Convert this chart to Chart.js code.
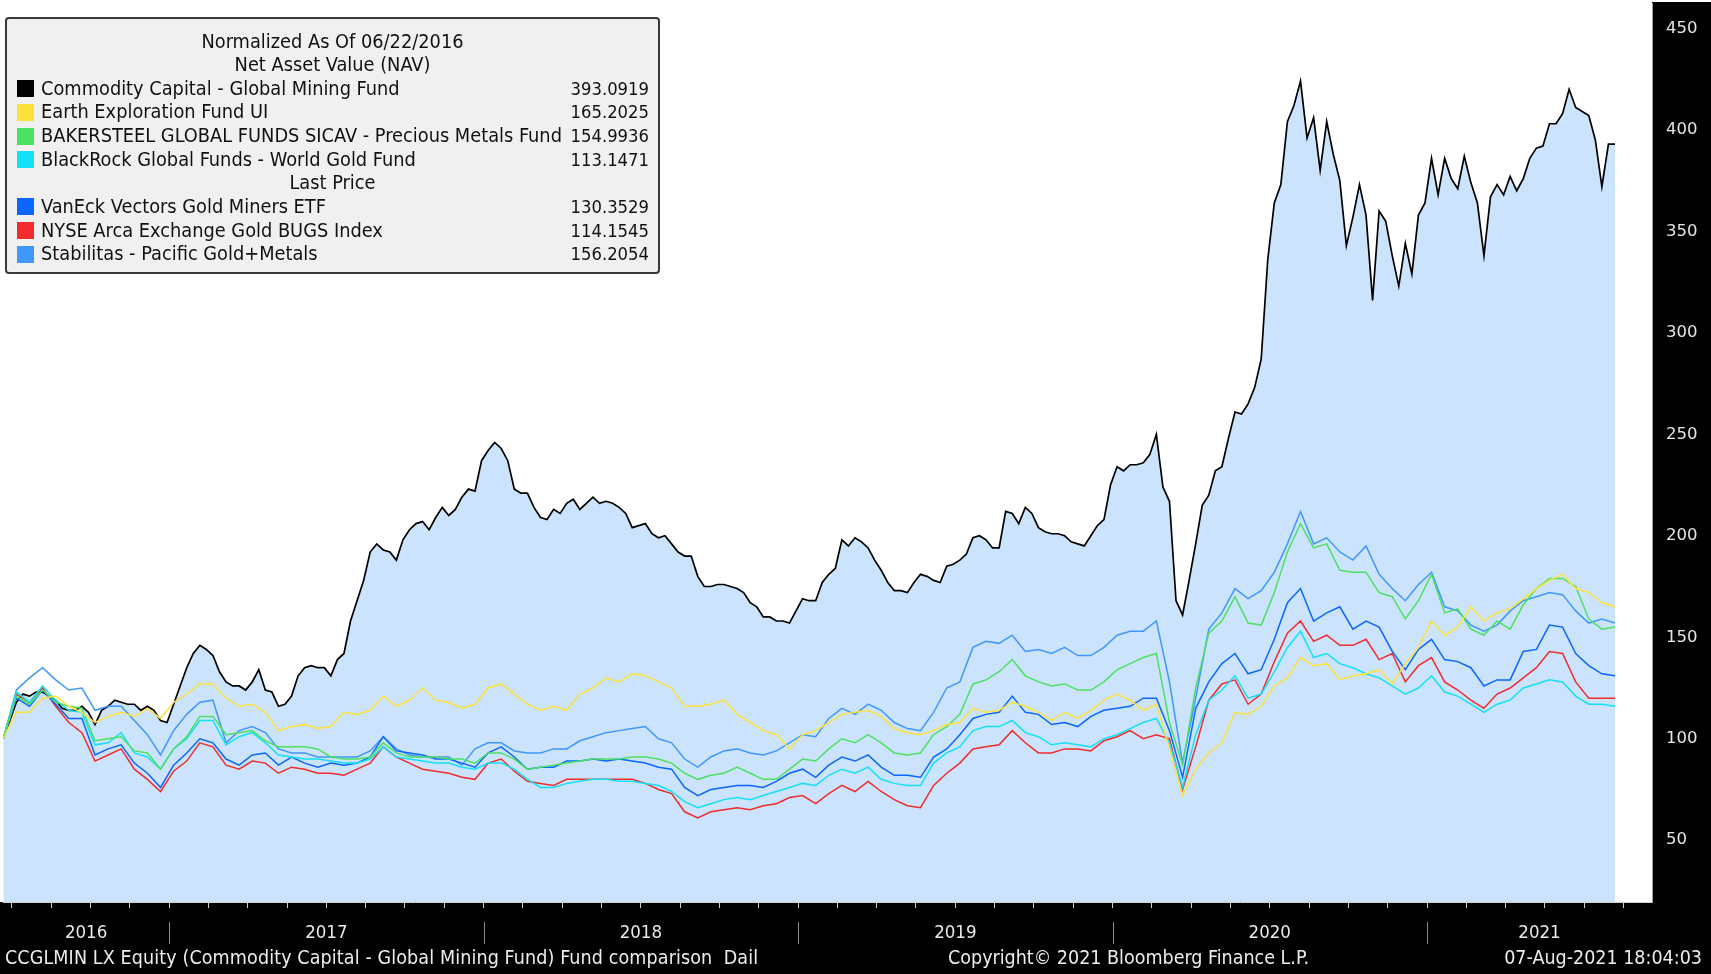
<!DOCTYPE html>
<html>
<head>
<meta charset="utf-8">
<script src="https://cdn.jsdelivr.net/npm/chart.js@4.4.1/dist/chart.umd.min.js"></script>
<style>
html,body{margin:0;padding:0;background:#fff;}
#wrap{position:relative;width:1711px;height:974px;overflow:hidden;background:#fff;}
#c{position:absolute;left:0;top:0;}
.t{position:absolute;font-family:"DejaVu Sans Condensed","Liberation Sans Narrow","Arial Narrow","DejaVu Sans",sans-serif;font-size:19.8px;white-space:pre;line-height:24px;height:24px;}
.f{font-size:19.5px;}
.v{font-size:18.3px;}
#legendBox{position:absolute;left:5px;top:17px;width:651px;height:253px;background:#f0f0f0;border:2px solid #3a3a3a;border-radius:4px;}
.sw{position:absolute;width:17px;height:17px;}
</style>
</head>
<body>
<div id="wrap">
  <canvas id="c" width="1711" height="974"></canvas>
  <div id="legendBox"></div>
  <div id="legendText"></div>
  <div id="footer"></div>
</div>
<script>
// ---------------- data ----------------
const START = 2016.4727;          // 22 Jun 2016, normalization date
const STEP = 1 / 24;              // half-month sampling (comparison series)
const STEP_FINE = 1 / 48;         // weekly-ish sampling (main fund)
const seriesNames = [
  "Commodity Capital - Global Mining Fund",
  "Earth Exploration Fund UI",
  "BAKERSTEEL GLOBAL FUNDS SICAV - Precious Metals Fund",
  "BlackRock Global Funds - World Gold Fund",
  "VanEck Vectors Gold Miners ETF",
  "NYSE Arca Exchange Gold BUGS Index",
  "Stabilitas - Pacific Gold+Metals"
];
const lastValues = ["393.0919","165.2025","154.9936","113.1471","130.3529","114.1545","156.2054"];
const yearLabels = ["2016","2017","2018","2019","2020","2021"];
const yTickValues = [50,100,150,200,250,300,350,400,450];

const commodityCapital = [
100,109,118,122,121,123,123,121,119,115,
114,114,116,113,107,114,116,119,118,117,
117,114,116,114,109,108,117,126,135,142,
146,144,141,133,128,126,126,124,128,134,
124,123,116,117,121,131,135,136,135,135,
131,139,142,158,168,178,192,196,193,192,
188,198,203,206,207,203,209,214,210,213,
219,223,222,237,242,246,243,237,223,221,
221,214,209,208,213,211,216,218,213,216,
219,216,217,216,214,211,204,205,206,201,
199,200,196,192,190,190,180,175,175,176,
176,175,174,172,167,165,160,160,158,158,
157,163,169,168,168,177,181,184,198,195,
199,197,194,188,183,177,173,173,172,177,
181,180,178,177,185,186,188,191,199,200,
198,194,194,212,211,206,214,211,204,202,
201,201,200,197,196,195,200,205,208,225,
234,232,235,235,236,240,250,224,217,168,
161,178,196,215,220,232,234,248,261,260,
265,273,287,336,364,373,404,412,424,396,
406,380,404,388,375,343,357,373,358,316,
360,355,338,323,344,329,358,364,386,368,
386,376,371,387,374,364,338,367,373,368,
377,370,376,386,391,392,403,403,408,420,
411,409,407,395,372,393,393];
const earthExploration = [100,113,113,120,121,116,113,108,111,113,111,115,110,118,122,127,127,120,116,117,
113,104,106,107,105,106,113,112,114,121,116,119,125,119,118,115,117,125,127,122,
117,114,116,114,122,125,130,128,132,131,128,125,116,116,117,119,112,108,104,102,
95,102,104,108,112,113,114,111,105,103,102,104,107,108,115,113,114,118,116,113,
109,113,110,114,119,122,119,114,117,95,72,85,93,98,113,112,116,126,130,140,
136,137,129,131,132,134,127,137,145,158,151,155,165,158,162,164,169,174,178,181,
174,172,167,165];
const bakersteel = [100,121,117,124,118,116,115,99,100,101,94,93,85,95,101,111,111,102,103,104,
99,96,96,96,95,91,90,90,91,98,93,91,91,91,90,90,88,93,93,90,
85,86,87,88,89,90,90,90,91,91,90,88,83,80,82,83,86,83,80,80,
85,90,89,95,100,98,102,98,93,92,93,102,106,112,127,129,133,139,131,128,
126,127,124,124,128,134,137,140,142,108,87,125,152,158,170,157,156,172,192,206,
194,196,183,182,182,172,170,159,168,181,162,164,154,151,158,154,166,174,179,179,
175,159,154,155];
const blackRock = [100,123,118,126,119,114,113,97,98,103,93,91,85,95,100,109,109,97,101,103,
98,92,91,90,90,89,88,88,90,96,91,90,89,88,88,86,85,88,88,85,
80,76,76,78,79,80,80,79,79,78,77,74,69,66,68,70,71,70,72,74,
76,78,77,82,85,83,86,80,78,77,77,88,93,96,104,106,106,109,103,101,
97,98,97,96,100,102,105,108,110,98,76,102,119,124,131,120,122,133,145,153,
140,142,137,135,132,130,126,122,125,131,123,121,117,113,117,119,125,127,129,128,
121,117,117,116];
const vanEck = [100,120,116,124,117,110,110,92,95,97,88,83,76,87,93,100,98,90,87,92,
93,87,91,88,86,88,87,88,91,101,94,93,92,90,90,88,86,93,96,91,
85,86,86,89,89,90,89,90,89,88,86,85,76,72,75,76,77,77,76,79,
83,85,81,87,91,89,92,86,82,82,81,91,95,102,110,112,113,121,113,112,
107,108,106,111,114,115,116,120,120,104,81,115,128,137,142,132,134,149,167,174,
158,162,165,154,158,155,143,134,144,149,139,138,135,126,129,129,143,144,156,155,
142,136,132,131];
const goldBugs = [100,122,118,125,116,108,103,89,92,95,85,80,74,84,89,98,96,87,85,89,
88,83,86,85,83,83,82,85,88,96,91,88,85,84,83,81,80,88,90,84,
79,78,77,80,80,80,80,80,80,78,75,73,64,61,64,65,66,65,67,68,
71,72,68,73,77,74,79,74,70,67,66,77,83,88,95,96,97,104,98,93,
93,95,95,94,99,101,104,100,102,100,75,96,119,127,129,117,122,138,152,158,
148,151,146,146,149,139,142,128,136,140,128,124,119,115,122,125,130,135,143,142,
128,120,120,120];
const stabilitas = [100,124,130,135,129,124,125,114,116,116,109,102,92,104,112,118,119,98,104,106,
103,95,93,93,91,91,91,91,94,101,95,92,91,91,91,87,95,98,98,94,
93,93,95,95,99,101,103,104,105,106,100,98,90,86,91,94,95,93,92,94,
98,102,101,110,115,112,117,114,108,105,104,113,125,128,145,148,147,151,143,144,
142,145,141,141,145,151,153,153,158,128,88,120,154,162,174,169,173,182,196,212,
196,199,192,188,195,181,174,168,176,182,165,163,156,153,156,163,168,170,172,171,
163,157,159,157];

const dates = [];
for (let i = 0; i < earthExploration.length; i++) dates.push(START + i * STEP);
const fineDates = [];
for (let i = 0; i < commodityCapital.length; i++) fineDates.push(START + i * STEP_FINE);

// ---------------- styling ----------------
const colors = ["#000000","#fde23c","#4de163","#14e0f8","#0a66ff","#f02c2c","#3f97ff"];
const FONT = '"DejaVu Sans Condensed","Liberation Sans Narrow","Arial Narrow","DejaVu Sans",sans-serif';
const X_MIN = 2016.4718, X_MAX = 2021.7154;

const tickDates = [];
for (let t = 2016.5; t <= X_MAX; t += 0.125) tickDates.push(t);
const yearBounds = [2017, 2018, 2019, 2020, 2021];
const yearMids = [(X_MIN + 2017) / 2, 2017.5, 2018.5, 2019.5, 2020.5, (2021 + X_MAX) / 2];

const seriesData = [commodityCapital, earthExploration, bakersteel, blackRock, vanEck, goldBugs, stabilitas];
const pts = (arr, xs) => arr.map((v, i) => ({x: xs[i], y: v}));

const datasets = seriesData.map((arr, k) => ({
  label: seriesNames[k],
  data: pts(arr, k === 0 ? fineDates : dates),
  borderColor: colors[k],
  borderWidth: k === 0 ? 1.7 : 1.5,
  pointRadius: 0,
  tension: 0,
  fill: k === 0 ? 'start' : false,
  backgroundColor: k === 0 ? '#cbe3fc' : colors[k],
  order: k === 0 ? 10 : k
}));

const noPad = s => { s.paddingTop = 0; s.paddingBottom = 0; s.paddingLeft = 0; s.paddingRight = 0; };

const panelPlugin = {
  id: 'panels',
  beforeDraw(chart) {
    const ctx = chart.ctx, a = chart.chartArea;
    ctx.save();
    ctx.fillStyle = '#000';
    ctx.fillRect(a.right, 2, chart.width - a.right, chart.height - 2);
    ctx.fillRect(0, a.bottom, chart.width, chart.height - a.bottom);
    ctx.restore();
  },
  afterDraw(chart) {
    const ctx = chart.ctx, xs = chart.scales.x, a = chart.chartArea;
    ctx.save();
    ctx.strokeStyle = '#8a8a8a';
    ctx.lineWidth = 1;
    yearBounds.forEach(y => {
      const px = Math.round(xs.getPixelForValue(y)) + 0.5;
      ctx.beginPath();
      ctx.moveTo(px, a.bottom + 20);
      ctx.lineTo(px, a.bottom + 42);
      ctx.stroke();
    });
    ctx.restore();
  }
};

new Chart(document.getElementById('c'), {
  type: 'line',
  data: { datasets },
  options: {
    responsive: false,
    animation: false,
    devicePixelRatio: 1,
    layout: { padding: { left: 3, top: 3, right: 0, bottom: 0 } },
    plugins: { legend: { display: false }, tooltip: { enabled: false } },
    scales: {
      x: {
        type: 'linear', position: 'bottom', min: X_MIN, max: X_MAX, weight: 0,
        afterBuildTicks: s => { s.ticks = tickDates.map(v => ({ value: v })); },
        afterFit: s => { s.height = 0; noPad(s); },
        grid: { display: true, drawOnChartArea: false, drawTicks: true, tickLength: 6, color: '#cfcfcf', lineWidth: 1 },
        border: { display: true, color: '#cfcfcf', width: 1 },
        ticks: { display: false }
      },
      years: {
        type: 'linear', position: 'bottom', min: X_MIN, max: X_MAX, weight: 1,
        afterBuildTicks: s => { s.ticks = yearMids.map(v => ({ value: v })); },
        afterFit: s => { s.height = 72; noPad(s); },
        grid: { display: false, drawTicks: false },
        border: { display: false },
        ticks: {
          autoSkip: false, maxRotation: 0, minRotation: 0, padding: 20,
          color: '#e8e8e8', font: { family: FONT, size: 18.5 },
          callback: (v, i) => yearLabels[i]
        }
      },
      y: {
        type: 'linear', position: 'right', min: 19.56, max: 462.5,
        afterBuildTicks: s => { s.ticks = yTickValues.map(v => ({ value: v })); },
        afterFit: s => { s.width = 59; noPad(s); },
        grid: { display: true, drawOnChartArea: false, drawTicks: false },
        border: { display: true, color: '#9a9a9a', width: 1 },
        ticks: {
          padding: 14, color: '#e4e4e4', font: { family: '"DejaVu Sans",sans-serif', size: 16.5 },
          callback: v => String(v)
        }
      }
    }
  },
  plugins: [panelPlugin]
});

// ---------------- legend (HTML text) ----------------
const legendRows = [
  { head: "Normalized As Of 06/22/2016" },
  { head: "Net Asset Value (NAV)" },
  { s: 0 }, { s: 1 }, { s: 2 }, { s: 3 },
  { head: "Last Price" },
  { s: 4 }, { s: 5 }, { s: 6 }
];
const lt = document.getElementById('legendText');
legendRows.forEach((r, k) => {
  const cy = 41.5 + 23.63 * k;
  if (r.head !== undefined) {
    const d = document.createElement('div');
    d.className = 't';
    d.style.cssText = `left:5px;width:655px;text-align:center;top:${cy - 12}px;color:#111;`;
    d.textContent = r.head;
    lt.appendChild(d);
  } else {
    const sw = document.createElement('div');
    sw.className = 'sw';
    sw.style.cssText = `left:17px;top:${cy - 8.5}px;background:${colors[r.s]};`;
    lt.appendChild(sw);
    const n = document.createElement('div');
    n.className = 't';
    n.style.cssText = `left:41px;top:${cy - 12}px;color:#111;`;
    n.textContent = seriesNames[r.s];
    lt.appendChild(n);
    const v = document.createElement('div');
    v.className = 't v';
    v.style.cssText = `left:0;width:649px;text-align:right;top:${cy - 12}px;color:#111;`;
    v.textContent = lastValues[r.s];
    lt.appendChild(v);
  }
});

// ---------------- footer ----------------
const footer = document.getElementById('footer');
[
  { text: "CCGLMIN LX Equity (Commodity Capital - Global Mining Fund) Fund comparison  Dail", css: "left:5px;letter-spacing:0.12px;" },
  { text: "Copyright\u00A9 2021 Bloomberg Finance L.P.", css: "left:948px;" },
  { text: "07-Aug-2021 18:04:03", css: "left:0;width:1702px;text-align:right;" }
].forEach(f => {
  const d = document.createElement('div');
  d.className = 't f';
  d.style.cssText = f.css + "top:946px;color:#ececec;";
  d.textContent = f.text;
  footer.appendChild(d);
});
</script>
</body>
</html>
